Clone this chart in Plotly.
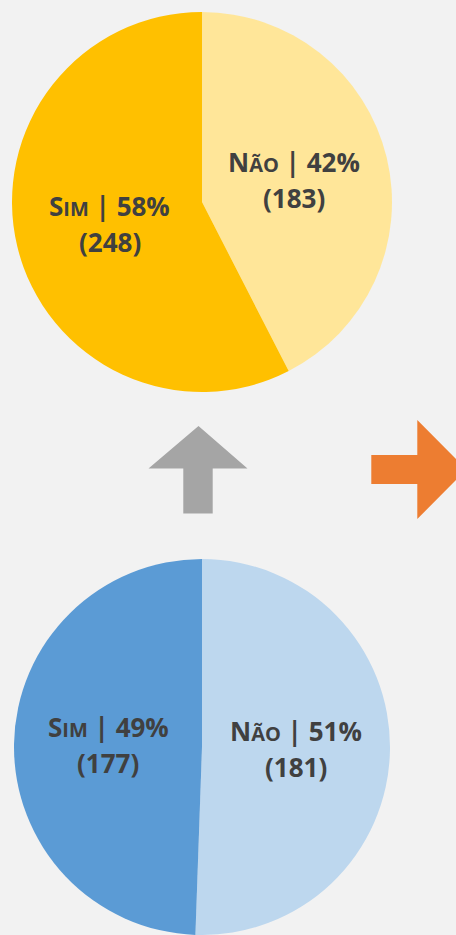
import math
import plotly.graph_objects as go

# ---- data ----
categories = ["Não", "Sim"]
top_values = [183, 248]
bottom_values = [181, 177]
top_colors = ["#FFE699", "#FFC000"]
bottom_colors = ["#BDD7EE", "#5B9BD5"]
small_caps_labels = {"Não": ("N", "ÃO"), "Sim": ("S", "IM")}

W, H = 456, 935
BG = "#F2F2F2"
TXT = "#404040"
FONT = "Open Sans"
FS = 26

# pie geometry (pixels)
top_c, top_r = (202, 202), 190
bot_c, bot_r = (202, 747), 188


def dom(c, r):
    cx, cy = c
    return dict(x=[(cx - r) / W, (cx + r) / W], y=[1 - (cy + r) / H, 1 - (cy - r) / H])


fig = go.Figure()
for vals, cols, c, r in [(top_values, top_colors, top_c, top_r),
                         (bottom_values, bottom_colors, bot_c, bot_r)]:
    fig.add_trace(go.Pie(
        labels=categories, values=vals, sort=False, direction="clockwise", rotation=0,
        marker=dict(colors=cols, line=dict(width=0)), textinfo="none", hoverinfo="label+value+percent",
        domain=dom(c, r), showlegend=False,
    ))


def label_annotations(vals, c, r):
    total = sum(vals)
    ann = []
    start = 0.0
    for cat, v in zip(categories, vals):
        frac = v / total
        mid = (start + frac / 2) * 2 * math.pi
        start += frac
        px = c[0] + 0.5 * r * math.sin(mid)
        py = c[1] - 0.5 * r * math.cos(mid)
        big, small = small_caps_labels[cat]
        pct = round(frac * 100)
        line1 = f"{big}<span style='font-size:20px'>{small}</span> | {pct}%"
        line2 = f"({v})"
        for txt, ys in [(line1, 18), (line2, -18)]:
            ann.append(dict(x=px / W, y=1 - py / H, xref="paper", yref="paper", text=txt,
                            showarrow=False, xanchor="center", yanchor="middle", yshift=ys,
                            font=dict(family=FONT, size=FS, color=TXT, weight="bold")))
    return ann


annotations = label_annotations(top_values, top_c, top_r) + label_annotations(bottom_values, bot_c, bot_r)


def P(x, y):
    return f"{x / W:.5f},{1 - y / H:.5f}"


up_arrow = ("M " + P(198.5, 426) + " L " + P(247.5, 468.5) + " L " + P(212.7, 468.5) + " L " + P(212.7, 513.5)
            + " L " + P(183.3, 513.5) + " L " + P(183.3, 468.5) + " L " + P(148.5, 468.5) + " Z")
right_arrow = ("M " + P(371.3, 455) + " L " + P(417.3, 455) + " L " + P(417.3, 420) + " L " + P(466.5, 469.5)
               + " L " + P(417.3, 519) + " L " + P(417.3, 484) + " L " + P(371.3, 484) + " Z")

shapes = [
    dict(type="path", path=up_arrow, xref="paper", yref="paper", fillcolor="#A5A5A5", line=dict(width=0)),
    dict(type="path", path=right_arrow, xref="paper", yref="paper", fillcolor="#ED7D31", line=dict(width=0)),
]

fig.update_layout(
    width=W, height=H, margin=dict(l=0, r=0, t=0, b=0),
    paper_bgcolor=BG, plot_bgcolor=BG,
    annotations=annotations, shapes=shapes,
    font=dict(family=FONT),
)

fig.write_html("out.html", config={"displayModeBar": False},
               post_script="document.body.style.margin='0';document.body.style.overflow='hidden';"
                           "document.documentElement.style.background='#F2F2F2';")
